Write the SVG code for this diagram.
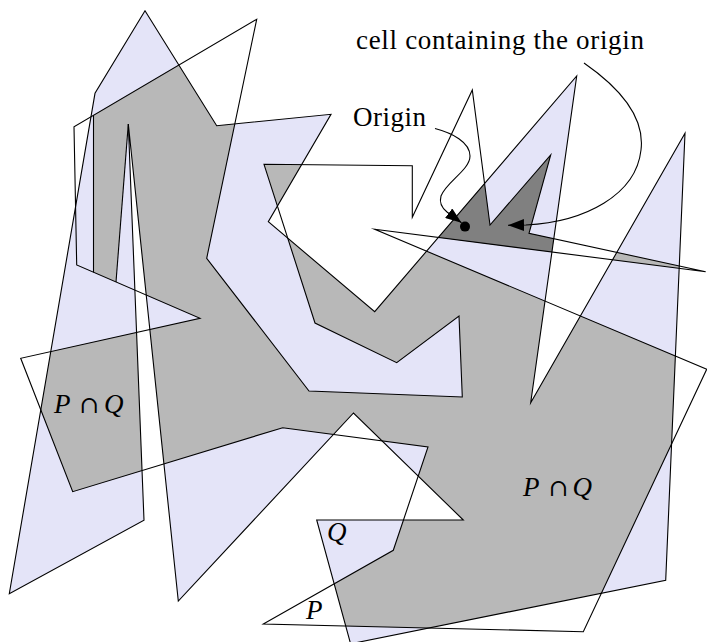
<svg xmlns="http://www.w3.org/2000/svg" width="707" height="642" viewBox="0 0 707 642">
<style>
.ln{fill:none;stroke:#000;stroke-width:1.1;stroke-linejoin:miter;stroke-miterlimit:20}
.lav{fill:#e4e4f8}
.gry{fill:#b8b8b8}
.drk{fill:#808080}
.lbl{font-family:"Liberation Serif","DejaVu Serif",serif;font-size:27px;fill:#000}
.it{font-style:italic}
.op{font-family:"DejaVu Serif","Liberation Serif",serif;font-size:24px}
</style>
<defs>
<polygon id="Qshape" points="145,10.7 216.7,125.7 331,114.3 268.3,221.7 374.7,311.7 576.7,76 530.7,402.7 685,133.3 665.7,580.3 350.6,643.8 316.7,520 463.3,520 353.5,413 178.3,601 128.3,124 144,520.3 9.3,593.7 95,93.3"/>
<polygon id="Pshape" points="412.3,165.7 264,164.3 315,323 396.7,362.7 459,316 462.3,397 309,391 206.7,258.3 256.7,19.3 74,126.7 76.7,265 200,318.3 20.7,358.3 72.7,491.7 282.7,427.7 428,447 393.3,550.3 263.3,624 583.3,631.7 706.7,369.3 374.7,229.3 705.7,271.7 529,233.3 550.7,155 490,225 472.3,90 412.3,217.3"/>
<clipPath id="clipP"><use href="#Pshape"/></clipPath>
<marker id="ah" viewBox="0 0 16 12" markerWidth="16" markerHeight="12" refX="16" refY="6" orient="auto" markerUnits="userSpaceOnUse"><path d="M0,0 L16,6 L0,12 Z" fill="#000"/></marker>
</defs>

<g id="polygon-Q-fill">
<use href="#Qshape" class="lav"/>
</g>
<g id="intersection-fill">
<g clip-path="url(#clipP)"><use href="#Qshape" class="gry"/></g>
<polygon class="lav" points="93.5,115.2 91,116.7 75.6,206.8 76.7,265 93.5,272.3"/>
<polygon class="lav" points="128.3,124 116,282 134.9,290.2"/>
</g>
<g id="origin-cell">
<polygon class="drk" points="484.6,183.5 490,225 550.7,155 529,233.3 553.8,238.7 551.9,252 438.3,237.5"/>
</g>
<g id="polygon-Q">
<use href="#Qshape" class="ln"/>
</g>
<g id="polygon-P">
<use href="#Pshape" class="ln"/>
<line class="ln" x1="93.5" y1="115.2" x2="93.5" y2="272.3"/>
<line class="ln" x1="128.3" y1="124" x2="116" y2="282"/>
</g>

<g id="connectors">
<path class="ln" d="M435,128.5 C452,133 470,142 470,156 C470,170 446,182 441,196 C439,203 442,208 447,212 L461.5,222.8" marker-end="url(#ah)"/>
<circle cx="465" cy="226.6" r="5" fill="#000"/>
<path class="ln" d="M584,63 C620,88 645,118 641,150 C636,195 585,222 526,225 L508,225.3" marker-end="url(#ah)"/>
</g>

<g id="labels">
<text class="lbl" x="356" y="49" textLength="288" lengthAdjust="spacing">cell containing the origin</text>
<text class="lbl" x="353" y="126" textLength="73" lengthAdjust="spacing">Origin</text>
<g id="label-PQ-left">
<text class="lbl it" x="54" y="413">P</text>
<text class="lbl op" x="89.5" y="413" text-anchor="middle">∩</text>
<text class="lbl it" x="104" y="413">Q</text>
</g>
<g id="label-PQ-right">
<text class="lbl it" x="523" y="496">P</text>
<text class="lbl op" x="558.7" y="496" text-anchor="middle">∩</text>
<text class="lbl it" x="572.5" y="496">Q</text>
</g>
<text class="lbl it" x="327" y="541">Q</text>
<text class="lbl it" x="306" y="619">P</text>
</g>
</svg>
